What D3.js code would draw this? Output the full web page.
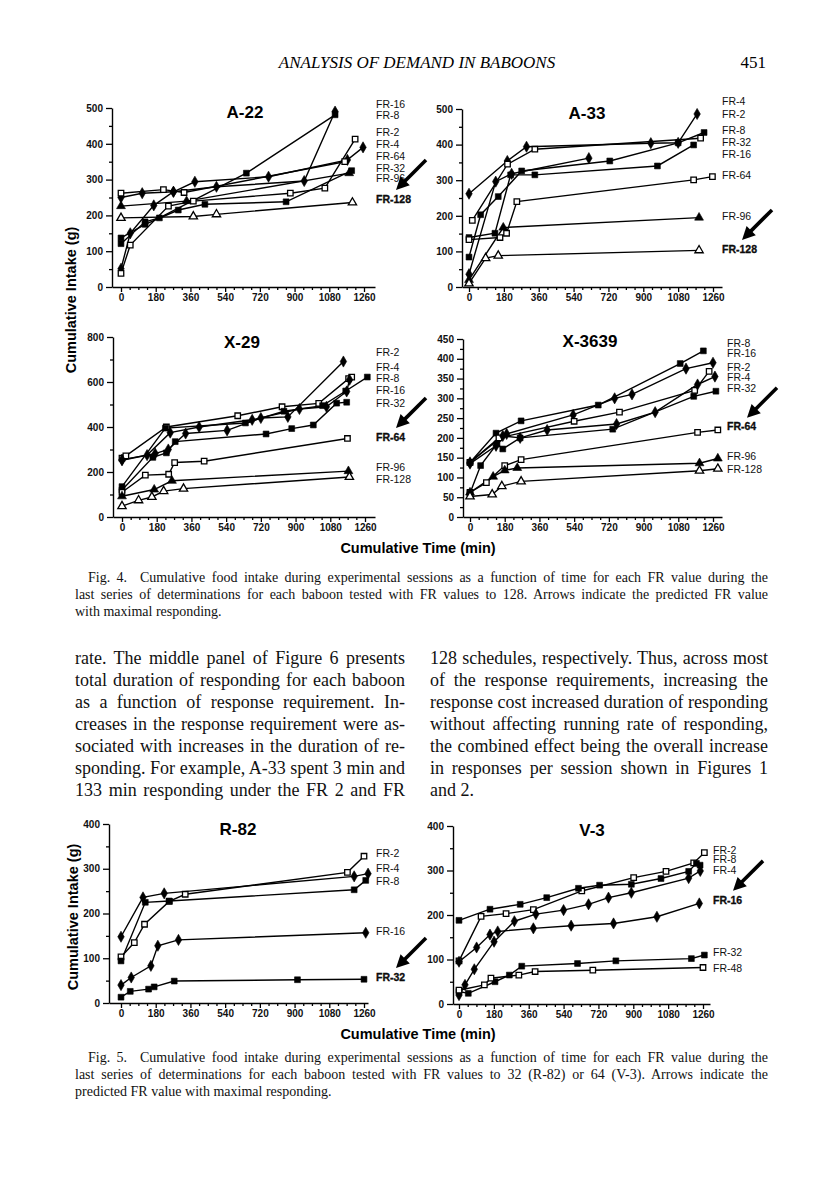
<!DOCTYPE html>
<html>
<head>
<meta charset="utf-8">
<script src="https://cdn.jsdelivr.net/npm/d3@7"></script>
<style>
  body { margin: 0; background: #fff; }
  svg { display: block; }
</style>
</head>
<body>
<svg id="page" width="816" height="1193"></svg>
<script>
// ---- data: cumulative time (min), cumulative intake (g) ----
const timeTicks = [0, 180, 360, 540, 720, 900, 1080, 1260];

const a22Series = [
  { fr: 'FR-16', pts: [[0, 51], [48, 150], [170, 228], [272, 266], [495, 280], [950, 296], [1110, 490]] },
  { fr: 'FR-8', pts: [[0, 121], [125, 182], [199, 193], [650, 318], [1110, 481]] },
  { fr: 'FR-2', pts: [[0, 38], [48, 117], [246, 226], [375, 240], [878, 262], [1057, 276], [1214, 413]] },
  { fr: 'FR-4', pts: [[0, 250], [110, 262], [272, 266], [383, 294], [765, 308], [1174, 355], [1255, 390]] },
  { fr: 'FR-64', pts: [[0, 262], [220, 272], [327, 264], [1160, 350]] },
  { fr: 'FR-32', pts: [[0, 137], [125, 175], [297, 215], [435, 231], [856, 238], [1196, 325]] },
  { fr: 'FR-96', pts: [[0, 226], [340, 240], [1183, 318]] },
  { fr: 'FR-128', pts: [[0, 193], [375, 197], [495, 203], [1200, 236]] }
];
const a22Labels = [['FR-16', 511], ['FR-8', 480], ['FR-2', 433], ['FR-4', 399], ['FR-64', 366], ['FR-32', 332], ['FR-96', 304], ['FR-128', 246]];

const a33Series = [
  { fr: 'FR-4', pts: [[0, 262], [198, 354], [297, 394], [939, 404], [1080, 405], [1178, 486]] },
  { fr: 'FR-2', pts: [[17, 187], [199, 345], [340, 387], [1196, 418]] },
  { fr: 'FR-8', pts: [[0, 84], [60, 203], [151, 254], [272, 326], [727, 354], [1080, 405], [1214, 434]] },
  { fr: 'FR-32', pts: [[0, 139], [134, 151], [215, 315], [340, 315], [973, 340], [1160, 399]] },
  { fr: 'FR-16', pts: [[0, 36], [138, 296], [220, 318], [619, 362]] },
  { fr: 'FR-64', pts: [[0, 133], [160, 139], [194, 151], [247, 240], [1160, 301], [1257, 310]] },
  { fr: 'FR-96', pts: [[0, 20], [177, 167], [1188, 195]] },
  { fr: 'FR-128', pts: [[0, 10], [86, 81], [151, 88], [1188, 103]] }
];
const a33Labels = [['FR-4', 522], ['FR-2', 486], ['FR-8', 441], ['FR-32', 407], ['FR-16', 374], ['FR-64', 315], ['FR-96', 199], ['FR-128', 107]];

const x29Series = [
  { fr: 'FR-4', pts: [[0, 252], [172, 282], [240, 300], [330, 371], [545, 385], [720, 440], [860, 445], [1148, 691]] },
  { fr: 'FR-2', pts: [[0, 262], [20, 272], [230, 400], [600, 450], [830, 490], [1020, 505], [1175, 615], [1191, 622]] },
  { fr: 'FR-8', pts: [[0, 135], [225, 395], [640, 418], [840, 470], [1040, 495], [1160, 560], [1272, 622]] },
  { fr: 'FR-16', pts: [[0, 255], [130, 275], [250, 375], [400, 400], [675, 432], [920, 480], [1060, 490], [1165, 558], [1180, 610]] },
  { fr: 'FR-32', pts: [[0, 120], [160, 265], [230, 285], [276, 335], [747, 369], [880, 393], [992, 409], [1113, 506], [1165, 510]] },
  { fr: 'FR-64', pts: [[0, 110], [121, 186], [242, 190], [273, 242], [426, 248], [1169, 349]] },
  { fr: 'FR-96', pts: [[0, 92], [167, 122], [259, 161], [1174, 204]] },
  { fr: 'FR-128', pts: [[0, 48], [86, 74], [155, 89], [216, 115], [319, 126], [1179, 178]] }
];
const x29Labels = [['FR-2', 733], ['FR-4', 667], ['FR-8', 618], ['FR-16', 564], ['FR-32', 507], ['FR-64', 356], ['FR-96', 222], ['FR-128', 169]];

const x3639Series = [
  { fr: 'FR-8', pts: [[0, 138], [135, 212], [265, 243], [665, 283], [1090, 388], [1210, 420]] },
  { fr: 'FR-16', pts: [[0, 135], [135, 180], [190, 210], [535, 258], [750, 300], [840, 310], [1120, 375], [1260, 390]] },
  { fr: 'FR-2', pts: [[0, 138], [150, 200], [540, 242], [775, 265], [1165, 320], [1240, 368]] },
  { fr: 'FR-4', pts: [[0, 138], [170, 205], [260, 200], [400, 220], [760, 235], [960, 265], [1180, 335], [1270, 355]] },
  { fr: 'FR-32', pts: [[0, 60], [55, 130], [140, 185], [170, 172], [260, 200], [740, 222], [1160, 305], [1275, 318]] },
  { fr: 'FR-64', pts: [[0, 62], [85, 87], [180, 130], [265, 145], [1180, 214], [1285, 220]] },
  { fr: 'FR-96', pts: [[0, 62], [120, 102], [180, 118], [245, 124], [1190, 136], [1285, 148]] },
  { fr: 'FR-128', pts: [[0, 52], [115, 57], [165, 78], [265, 90], [1190, 117], [1285, 122]] }
];
const x3639Labels = [['FR-8', 440], ['FR-16', 415], ['FR-2', 379], ['FR-4', 354], ['FR-32', 326], ['FR-64', 228], ['FR-96', 154], ['FR-128', 121]];

const r82Series = [
  { fr: 'FR-2', pts: [[0, 103], [69, 135], [122, 176], [250, 227], [333, 243], [1174, 292], [1260, 328]] },
  { fr: 'FR-4', pts: [[0, 148], [114, 236], [224, 245], [1209, 283], [1281, 289]] },
  { fr: 'FR-8', pts: [[0, 94], [126, 225], [250, 228], [1209, 253], [1269, 274]] },
  { fr: 'FR-16', pts: [[0, 40], [53, 57], [155, 83], [191, 128], [298, 141], [1269, 157]] },
  { fr: 'FR-32', pts: [[0, 13], [48, 26], [143, 31], [172, 36], [276, 49], [915, 52], [1260, 53]] }
];
const r82Labels = [['FR-2', 335], ['FR-4', 302], ['FR-8', 273], ['FR-16', 160], ['FR-32', 58]];

const v3Series = [
  { fr: 'FR-2', pts: [[0, 97], [114, 197], [243, 203], [384, 212], [634, 254], [902, 284], [1069, 298], [1212, 317], [1267, 340]] },
  { fr: 'FR-8', pts: [[0, 188], [160, 213], [316, 224], [453, 239], [617, 260], [726, 267], [890, 269], [1043, 282], [1186, 298], [1226, 316], [1245, 312]] },
  { fr: 'FR-4', pts: [[0, 20], [31, 43], [79, 78], [181, 140], [286, 186], [397, 202], [540, 211], [669, 224], [772, 239], [890, 250], [1186, 283], [1246, 299]] },
  { fr: 'FR-16', pts: [[0, 95], [91, 127], [160, 156], [200, 163], [384, 170], [579, 176], [798, 181], [1022, 196], [1241, 226]] },
  { fr: 'FR-32', pts: [[0, 28], [48, 24], [186, 50], [260, 65], [324, 85], [612, 91], [810, 97], [1200, 102], [1267, 110]] },
  { fr: 'FR-48', pts: [[0, 31], [131, 43], [165, 58], [309, 65], [393, 73], [691, 76], [1260, 82]] }
];
const v3Labels = [['FR-2', 346], ['FR-8', 324], ['FR-4', 301], ['FR-16', 234], ['FR-32', 117], ['FR-48', 81]];

// marker shape per FR value
const markerFor = {
  'FR-2': 'openSquare', 'FR-4': 'diamond', 'FR-8': 'square', 'FR-16': 'diamond',
  'FR-32': 'square', 'FR-48': 'openSquare', 'FR-64': 'openSquare',
  'FR-96': 'triangle', 'FR-128': 'openTriangle'
};

// ---- page layout ----
const panels = [
  { title: 'A-22', series: a22Series, labels: a22Labels, arrowAt: 'FR-128', yMax: 500, yStep: 100,
    axisX: 112, x0: 121, x1: 364, xEnd: 375, top: 108, bottom: 287, labelX: 376, titleX: 245, titleY: 112 },
  { title: 'A-33', series: a33Series, labels: a33Labels, arrowAt: 'FR-128', yMax: 500, yStep: 100,
    axisX: 462, x0: 469, x1: 713, xEnd: 722, top: 109, bottom: 287, labelX: 722, titleX: 587, titleY: 113 },
  { title: 'X-29', series: x29Series, labels: x29Labels, arrowAt: 'FR-64', yMax: 800, yStep: 200,
    axisX: 113, x0: 122, x1: 365, xEnd: 375, top: 337, bottom: 517, labelX: 376, titleX: 242, titleY: 342 },
  { title: 'X-3639', series: x3639Series, labels: x3639Labels, arrowAt: 'FR-64', yMax: 450, yStep: 50,
    axisX: 463, x0: 470, x1: 713, xEnd: 722, top: 339, bottom: 517, labelX: 727, titleX: 590, titleY: 341 },
  { title: 'R-82', series: r82Series, labels: r82Labels, arrowAt: 'FR-32', yMax: 400, yStep: 100,
    axisX: 109, x0: 121, x1: 364, xEnd: 368, top: 824, bottom: 1003, labelX: 376, titleX: 238, titleY: 829 },
  { title: 'V-3', series: v3Series, labels: v3Labels, arrowAt: 'FR-16', yMax: 400, yStep: 100,
    axisX: 453, x0: 459, x1: 703, xEnd: 710, top: 826, bottom: 1004, labelX: 713, titleX: 592, titleY: 830 }
];

const sans = "'Liberation Sans', Arial, Helvetica, sans-serif";
const serif = "'Liberation Serif', 'Times New Roman', serif";
const svg = d3.select('#page');
svg.append('rect').attr('width', 816).attr('height', 1193).attr('fill', '#fff');

const symbolOf = {
  square: d3.symbol().type(d3.symbolSquare).size(34),
  openSquare: d3.symbol().type(d3.symbolSquare).size(30),
  diamond: d3.symbol().type(d3.symbolDiamond).size(36),
  triangle: d3.symbol().type(d3.symbolTriangle).size(34),
  openTriangle: d3.symbol().type(d3.symbolTriangle).size(30)
};

function drawPanel(p) {
  const g = svg.append('g');
  const x = d3.scaleLinear().domain([0, 1260]).range([p.x0, p.x1]);
  const y = d3.scaleLinear().domain([0, p.yMax]).range([p.bottom, p.top]);
  const xAxisScale = d3.scaleLinear().domain([x.invert(p.axisX), x.invert(p.xEnd)]).range([p.axisX, p.xEnd]);

  // minor ticks (every 45 min, half y step)
  const minorX = d3.range(45, 1305, 45).filter(v => v % 180 !== 0);
  g.append('g').attr('transform', `translate(0,${p.bottom})`)
    .call(d3.axisBottom(xAxisScale).tickValues(minorX).tickSize(3).tickFormat(''))
    .call(a => a.select('.domain').remove());
  const minorY = d3.range(p.yStep / 2, p.yMax, p.yStep);
  g.append('g').attr('transform', `translate(${p.axisX},0)`)
    .call(d3.axisLeft(y).tickValues(minorY).tickSize(3).tickFormat(''))
    .call(a => a.select('.domain').remove());

  const xAxis = g.append('g').attr('transform', `translate(0,${p.bottom})`)
    .call(d3.axisBottom(xAxisScale).tickValues(timeTicks).tickSize(5).tickSizeOuter(0)
      .tickPadding(2).tickFormat(d3.format('d')));
  const yAxis = g.append('g').attr('transform', `translate(${p.axisX},0)`)
    .call(d3.axisLeft(y).tickValues(d3.range(0, p.yMax + 1, p.yStep)).tickSize(6).tickSizeOuter(0)
      .tickPadding(3).tickFormat(d3.format('d')));
  [xAxis, yAxis].forEach(a => {
    a.selectAll('path, line').attr('stroke', '#000').attr('stroke-width', 1.4);
    a.selectAll('text').attr('font-family', sans).attr('font-size', 10).attr('font-weight', 'bold').attr('fill', '#111');
  });
  g.selectAll('.tick line').attr('stroke', '#000').attr('stroke-width', 1.3);

  // title
  g.append('text').attr('x', p.titleX).attr('y', p.titleY).attr('dy', '0.35em')
    .attr('text-anchor', 'middle').attr('font-family', sans).attr('font-weight', 'bold')
    .attr('font-size', 17).text(p.title);

  // lines and markers
  const line = d3.line().x(d => x(d[0])).y(d => y(d[1]));
  p.series.forEach(s => {
    g.append('path').datum(s.pts).attr('d', line)
      .attr('fill', 'none').attr('stroke', '#000').attr('stroke-width', 1.4);
  });
  p.series.forEach(s => {
    const shape = markerFor[s.fr];
    const open = shape.startsWith('open');
    g.selectAll(null).data(s.pts).enter().append('path')
      .attr('d', symbolOf[shape]())
      .attr('transform', d => `translate(${x(d[0])},${y(d[1])})`)
      .attr('fill', open ? '#fff' : '#000')
      .attr('stroke', '#000').attr('stroke-width', open ? 1.3 : 0.6);
  });

  // FR labels
  p.labels.forEach(([txt, v]) => {
    g.append('text').attr('x', p.labelX).attr('y', y(v)).attr('dy', '0.35em')
      .attr('font-family', sans).attr('font-size', 10.5)
      .attr('font-weight', txt === p.arrowAt ? 'bold' : 'normal')
      .attr('fill', '#111')
      .attr('stroke', txt === p.arrowAt ? '#000' : 'none').attr('stroke-width', 0.3)
      .text(txt);
  });

  // arrow pointing at predicted FR value
  const target = p.labels.find(l => l[0] === p.arrowAt);
  const tip = [p.labelX + 20, y(target[1]) - 9];
  const tail = [tip[0] + 30, tip[1] - 30];
  const len = Math.hypot(tip[0] - tail[0], tip[1] - tail[1]);
  const u = [(tip[0] - tail[0]) / len, (tip[1] - tail[1]) / len];
  const n = [-u[1], u[0]];
  const base = [tip[0] - u[0] * 13, tip[1] - u[1] * 13];
  g.append('line').attr('x1', tail[0]).attr('y1', tail[1]).attr('x2', base[0] + u[0] * 2).attr('y2', base[1] + u[1] * 2)
    .attr('stroke', '#000').attr('stroke-width', 3.6);
  g.append('path')
    .attr('d', `M${tip[0]},${tip[1]}L${base[0] + n[0] * 6.5},${base[1] + n[1] * 6.5}L${base[0] - n[0] * 6.5},${base[1] - n[1] * 6.5}Z`)
    .attr('fill', '#000');
}
panels.forEach(drawPanel);

// axis titles
function axisTitle(txt, xPos, yPos, rotate) {
  svg.append('text')
    .attr('transform', `translate(${xPos},${yPos})` + (rotate ? ' rotate(-90)' : ''))
    .attr('text-anchor', 'middle').attr('dy', '0.35em')
    .attr('font-family', sans).attr('font-weight', 'bold').attr('font-size', 14.5)
    .text(txt);
}
axisTitle('Cumulative Intake (g)', 71, 300, true);
axisTitle('Cumulative Time (min)', 418, 548, false);
axisTitle('Cumulative Intake (g)', 73, 917, true);
axisTitle('Cumulative Time (min)', 418, 1034, false);

// ---- page text ----
svg.append('text').attr('x', 417).attr('y', 68).attr('text-anchor', 'middle')
  .attr('font-family', serif).attr('font-style', 'italic').attr('font-size', 17)
  .text('ANALYSIS OF DEMAND IN BABOONS');
svg.append('text').attr('x', 766).attr('y', 68).attr('text-anchor', 'end')
  .attr('font-family', serif).attr('font-size', 17).text('451');

// justified lines: stretch word spacing to fill the column
function textBlock(lines, x0, x1, yStart, lh, size, firstIndent, justifyLast) {
  lines.forEach((t, i) => {
    const left = i === 0 ? x0 + firstIndent : x0;
    const el = svg.append('text').attr('x', left).attr('y', yStart + i * lh)
      .attr('font-family', serif).attr('font-size', size).attr('fill', '#111')
      .style('white-space', 'pre').text(t);
    if (i < lines.length - 1 || justifyLast) {
      const natural = el.node().getComputedTextLength();
      const gaps = (t.match(/ /g) || []).length;
      if (gaps > 0) el.attr('word-spacing', ((x1 - left) - natural) / gaps);
    }
  });
}

const fig4Caption = [
  'Fig. 4.  Cumulative food intake during experimental sessions as a function of time for each FR value during the',
  'last series of determinations for each baboon tested with FR values to 128. Arrows indicate the predicted FR value',
  'with maximal responding.'
];
textBlock(fig4Caption, 75, 768, 582, 17, 14, 13, false);

const leftColumn = [
  'rate. The middle panel of Figure 6 presents',
  'total duration of responding for each baboon',
  'as a function of response requirement. In-',
  'creases in the response requirement were as-',
  'sociated with increases in the duration of re-',
  'sponding. For example, A-33 spent 3 min and',
  '133 min responding under the FR 2 and FR'
];
textBlock(leftColumn, 75, 405, 664, 22, 18, 0, true);

const rightColumn = [
  '128 schedules, respectively. Thus, across most',
  'of the response requirements, increasing the',
  'response cost increased duration of responding',
  'without affecting running rate of responding,',
  'the combined effect being the overall increase',
  'in responses per session shown in Figures 1',
  'and 2.'
];
textBlock(rightColumn, 430, 768, 664, 22, 18, 0, false);

const fig5Caption = [
  'Fig. 5.  Cumulative food intake during experimental sessions as a function of time for each FR value during the',
  'last series of determinations for each baboon tested with FR values to 32 (R-82) or 64 (V-3). Arrows indicate the',
  'predicted FR value with maximal responding.'
];
textBlock(fig5Caption, 75, 768, 1062, 17, 14, 13, false);
</script>
</body>
</html>
